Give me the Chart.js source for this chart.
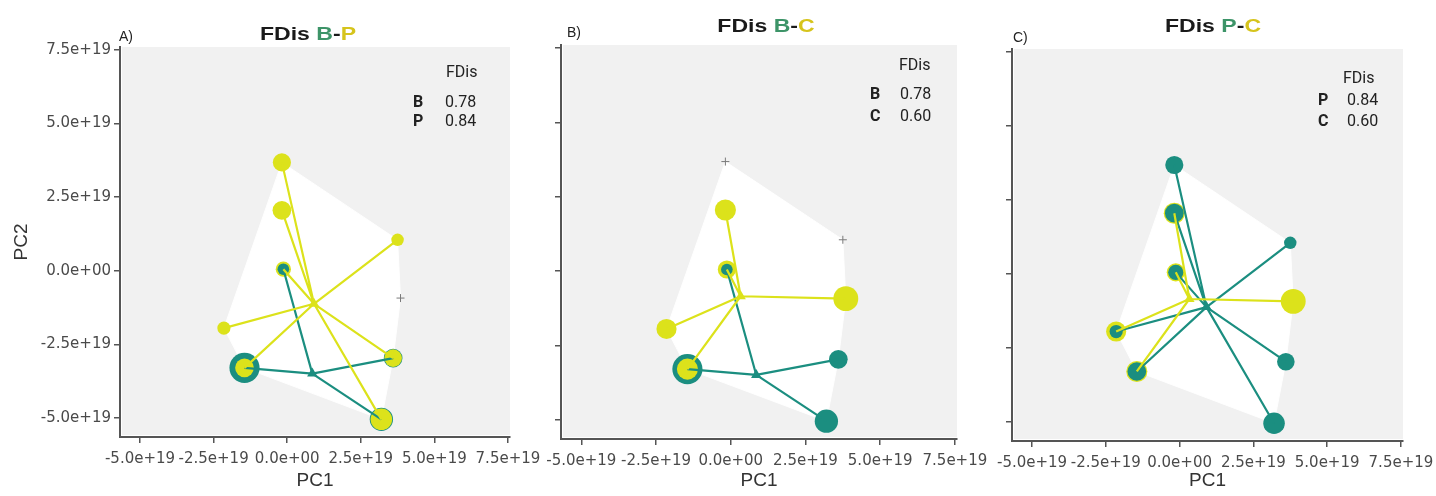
<!DOCTYPE html>
<html>
<head>
<meta charset="utf-8">
<script src="https://cdn.jsdelivr.net/npm/chart.js@4.4.1/dist/chart.umd.min.js"></script>
<style>
  html, body { margin: 0; padding: 0; background: #ffffff; }
  #wrap { position: relative; width: 1436px; height: 496px; overflow: hidden; }
  .panel { position: absolute; top: 0; height: 496px; }
  .txt { position: absolute; white-space: nowrap; line-height: 1; }
  .letter { font-family: "Liberation Sans", Arial, sans-serif; font-size: 14px; color: #222; }
  .title { font-family: "Liberation Sans", Arial, sans-serif; font-weight: bold; font-size: 18px; color: #1a1a1a;
           transform: translateX(-50%) scaleX(1.28); transform-origin: center; }
  .legend { font-family: Roboto, "Noto Sans", sans-serif; font-size: 16px; color: #222; }
  .legend b { font-weight: bold; }
</style>
</head>
<body>
<div id="wrap"></div>
<script>
// Species coordinates on the first two principal coordinates
const speciesPC1 = [-0.18e19, -0.18e19, 3.75e19, -0.13e19, -2.15e19, -1.45e19, 3.6e19, 3.2e19, 3.85e19];
const speciesPC2 = [3.68e19, 2.05e19, 1.05e19, 0.05e19, -1.95e19, -3.3e19, -2.97e19, -5.05e19, -0.93e19];

// Relative abundance of each species per community (0 = absent)
const abundB = [0, 0, 0, 0.07, 0, 0.47, 0.18, 0.28, 0];
const abundP = [0.17, 0.18, 0.08, 0.12, 0.09, 0.18, 0.16, 0.24, 0];
const abundC = [0, 0.23, 0, 0.17, 0.21, 0.23, 0, 0, 0.32];

// Functional dispersion per community
const communityNames = ['B', 'P', 'C'];
const communityFDis = [0.78, 0.84, 0.60];

// Panels: community pairs compared
const panelLetters = ['A)', 'B)', 'C)'];
const panelPairs = [['B', 'P'], ['B', 'C'], ['P', 'C']];

// Axis ticks
const axisTickValues = [-5e19, -2.5e19, 0, 2.5e19, 5e19, 7.5e19];
const axisTickLabels = ['-5.0e+19', '-2.5e+19', '0.0e+00', '2.5e+19', '5.0e+19', '7.5e+19'];
const xRange = [-5.68e19, 7.57e19];
const yRange = [-5.65e19, 7.6e19];

// ---- styling ----
const TEAL = '#1b8e80';
const YELLOW = '#dce21b';
const TITLE_COLORS = ['#3d9468', '#d6c41c'];
const PAIR_COLORS = [TEAL, YELLOW];
const CANVAS_H = 496;

const panelLayout = [
  { canvasLeft: 0,   canvasWidth: 560, areaLeft: 120,  areaRight: 510,  areaTop: 47, areaBottom: 437, yLabels: true,
    letter: [119, 36], title: [308, 34], legend: { headX: 446, headY: 72, keyX: 413, valX: 445, rowY: [102, 121] } },
  { canvasLeft: 520, canvasWidth: 480, areaLeft: 561,  areaRight: 957,  areaTop: 45, areaBottom: 439, yLabels: false,
    letter: [567, 32], title: [766, 26], legend: { headX: 899, headY: 65, keyX: 870, valX: 900, rowY: [94, 116] } },
  { canvasLeft: 980, canvasWidth: 456, areaLeft: 1012, areaRight: 1403, areaTop: 49, areaBottom: 441, yLabels: false,
    letter: [1013, 37], title: [1213, 26], legend: { headX: 1343, headY: 78, keyX: 1318, valX: 1347, rowY: [100, 121] } }
];

const abundance = { B: abundB, P: abundP, C: abundC };

// Marker area proportional to abundance
const radiusFor = a => 22 * Math.sqrt(a);

// Abundance-weighted centroid of a community
function centroid(ab) {
  let sw = 0, sx = 0, sy = 0;
  ab.forEach((w, i) => { sw += w; sx += w * speciesPC1[i]; sy += w * speciesPC2[i]; });
  return { x: sx / sw, y: sy / sw };
}

// Convex hull (monotone chain) of all species
function convexHull() {
  const pts = speciesPC1.map((x, i) => ({ x, y: speciesPC2[i] })).sort((a, b) => a.x - b.x || a.y - b.y);
  const cross = (o, a, b) => (a.x - o.x) * (b.y - o.y) - (a.y - o.y) * (b.x - o.x);
  const lower = [], upper = [];
  for (const p of pts) {
    while (lower.length >= 2 && cross(lower[lower.length - 2], lower[lower.length - 1], p) <= 0) lower.pop();
    lower.push(p);
  }
  for (let i = pts.length - 1; i >= 0; i--) {
    const p = pts[i];
    while (upper.length >= 2 && cross(upper[upper.length - 2], upper[upper.length - 1], p) <= 0) upper.pop();
    upper.push(p);
  }
  upper.pop(); lower.pop();
  const hull = lower.concat(upper);
  hull.push(hull[0]);
  return hull;
}

const panelBackground = {
  id: 'panelBackground',
  beforeDraw(chart) {
    const { ctx, chartArea: a } = chart;
    ctx.save();
    ctx.fillStyle = '#f1f1f1';
    ctx.fillRect(a.left + 2, a.top, a.right - a.left - 2, a.bottom - a.top - 2);
    ctx.restore();
  }
};

Chart.defaults.font.family = "'DejaVu Sans', sans-serif";
Chart.defaults.animation = false;

const wrap = document.getElementById('wrap');

function addText(cls, html, left, top) {
  const d = document.createElement('div');
  d.className = 'txt ' + cls;
  d.innerHTML = html;
  d.style.left = left + 'px';
  d.style.top = top + 'px';
  wrap.appendChild(d);
  return d;
}

panelPairs.forEach((pair, p) => {
  const L = panelLayout[p];
  const holder = document.createElement('div');
  holder.className = 'panel';
  holder.style.left = L.canvasLeft + 'px';
  holder.style.width = L.canvasWidth + 'px';
  const canvas = document.createElement('canvas');
  holder.appendChild(canvas);
  wrap.appendChild(holder);

  const abs = pair.map(c => abundance[c]);

  // point layers: larger marker of a shared species sits underneath
  const absent = [];
  const under = { data: [], r: [], c: [] };
  const over = { data: [], r: [], c: [] };
  speciesPC1.forEach((x, i) => {
    const y = speciesPC2[i];
    const marks = [];
    abs.forEach((ab, k) => { if (ab[i] > 0) marks.push({ r: radiusFor(ab[i]), c: PAIR_COLORS[k] }); });
    if (!marks.length) { absent.push({ x, y }); return; }
    marks.sort((m, n) => n.r - m.r);
    under.data.push({ x, y }); under.r.push(marks[0].r); under.c.push(marks[0].c);
    if (marks[1]) { over.data.push({ x, y }); over.r.push(marks[1].r); over.c.push(marks[1].c); }
  });

  const cents = abs.map(ab => centroid(ab));

  const spokes = abs.map((ab, k) => {
    const segs = [];
    ab.forEach((w, i) => {
      if (w > 0) segs.push(cents[k], { x: speciesPC1[i], y: speciesPC2[i] }, { x: null, y: null });
    });
    return segs;
  });

  const datasets = [
    { type: 'line', data: convexHull(), fill: 'shape', backgroundColor: '#ffffff', borderColor: '#ffffff',
      borderWidth: 1, pointRadius: 0, order: 10 },
    { type: 'scatter', data: absent, pointStyle: 'cross', pointRadius: 4, borderColor: '#7a7a7a', borderWidth: 1, order: 9 },
    { type: 'scatter', data: under.data, pointRadius: under.r, backgroundColor: under.c, borderWidth: 0, order: 8 },
    { type: 'scatter', data: over.data, pointRadius: over.r, backgroundColor: over.c, borderWidth: 0, order: 7 },
    { type: 'line', data: spokes[0], borderColor: PAIR_COLORS[0], borderWidth: 2.2, pointRadius: 0, spanGaps: false, fill: false, order: 6 },
    { type: 'line', data: spokes[1], borderColor: PAIR_COLORS[1], borderWidth: 2.2, pointRadius: 0, spanGaps: false, fill: false, order: 5 },
    { type: 'scatter', data: cents, pointStyle: 'triangle', pointRadius: 6, backgroundColor: PAIR_COLORS, borderWidth: 0, order: 4 }
  ];

  const tickFont = { size: 15 };
  const axisCommon = (isX) => ({
    type: 'linear',
    min: isX ? xRange[0] : yRange[0],
    max: isX ? xRange[1] : yRange[1],
    afterBuildTicks: s => { s.ticks = axisTickValues.map(v => ({ value: v })); },
    grid: { drawOnChartArea: false, drawTicks: true, tickLength: 6, color: '#555555', lineWidth: 1.5 },
    border: { display: true, color: '#555555', width: 2 },
    ticks: { autoSkip: false, maxRotation: 0, minRotation: 0, color: '#4a4a4a', font: tickFont, padding: isX ? 7 : 3 }
  });

  const xScale = axisCommon(true);
  xScale.afterFit = s => { s.height = CANVAS_H - L.areaBottom; s.paddingLeft = 0; s.paddingRight = 0; };
  xScale.ticks.callback = (v, i) => axisTickLabels[i];
  xScale.title = { display: true, text: 'PC1', color: '#333333', font: { size: 19, family: "'Liberation Sans', Arial, sans-serif" },
                   padding: { top: 0, bottom: 4 } };

  const yScale = axisCommon(false);
  yScale.afterFit = s => { s.width = L.areaLeft - L.canvasLeft; s.paddingTop = 0; s.paddingBottom = 0; };
  yScale.ticks.callback = (v, i) => (L.yLabels ? axisTickLabels[i] : '');
  yScale.title = { display: L.yLabels, text: 'PC2', color: '#333333', font: { size: 19, family: "'Liberation Sans', Arial, sans-serif" },
                   padding: { top: 10, bottom: 0 } };

  new Chart(canvas, {
    type: 'scatter',
    data: { datasets },
    options: {
      responsive: true,
      maintainAspectRatio: false,
      devicePixelRatio: 1,
      events: [],
      layout: { padding: { left: 0, top: L.areaTop, right: L.canvasLeft + L.canvasWidth - L.areaRight, bottom: 0 } },
      plugins: { legend: { display: false }, tooltip: { enabled: false }, title: { display: false } },
      scales: { x: xScale, y: yScale }
    },
    plugins: [panelBackground]
  });

  // panel letter and title
  addText('letter', panelLetters[p], L.letter[0], L.letter[1] - 7);
  addText('title',
    'FDis <span style="color:' + TITLE_COLORS[0] + '">' + pair[0] + '</span>-<span style="color:' + TITLE_COLORS[1] + '">' + pair[1] + '</span>',
    L.title[0], L.title[1] - 9);

  // FDis table
  const lg = L.legend;
  addText('legend', 'FDis', lg.headX, lg.headY - 8);
  pair.forEach((c, k) => {
    const idx = communityNames.indexOf(c);
    addText('legend', '<b>' + c + '</b>', lg.keyX, lg.rowY[k] - 8);
    addText('legend', communityFDis[idx].toFixed(2), lg.valX, lg.rowY[k] - 8);
  });
});
</script>
</body>
</html>
